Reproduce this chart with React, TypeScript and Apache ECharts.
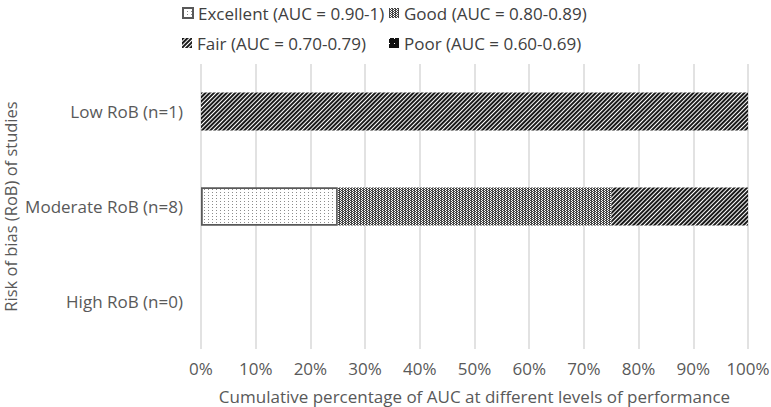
import React, { useEffect, useRef } from "react";
import * as echarts from "echarts";

const categories = ["Low RoB (n=1)", "Moderate RoB (n=8)", "High RoB (n=0)"];
const seriesNames = [
  "Excellent (AUC = 0.90-1)",
  "Good (AUC = 0.80-0.89)",
  "Fair (AUC = 0.70-0.79)",
  "Poor (AUC = 0.60-0.69)",
];
const excellent = [0, 25, 0];
const good = [0, 50, 0];
const fair = [100, 25, 0];
const poor = [0, 0, 0];
const xTicks = { min: 0, max: 100, interval: 10 };

const FONT = "'Open Sans', sans-serif";
const TEXT = "#595959";

export default function App() {
  const ref = useRef<HTMLDivElement>(null);
  useEffect(() => {
    document.body.style.margin = "0";
    if (!ref.current) return;
    const chart = echarts.init(ref.current, undefined, { renderer: "svg" });
    const decals: any[] = [
      {
        symbol: "rect",
        symbolSize: 1,
        color: "#8c8c8c",
        backgroundColor: "#ffffff",
        dashArrayX: [1, 3],
        dashArrayY: [1, 2],
        rotation: 0,
      },
      {
        symbol: "rect",
        symbolSize: 1,
        color: "#444444",
        backgroundColor: "#ffffff",
        dashArrayX: [[2, 1], [1, 1, 1, 0]],
        dashArrayY: [1, 0],
        rotation: 0,
      },
      {
        symbol: "rect",
        symbolSize: 1,
        color: "#1a1a1a",
        backgroundColor: "#ffffff",
        dashArrayX: [[1, 0]],
        dashArrayY: [1.2, 1],
        rotation: -Math.PI / 4,
      },
      {
        symbol: "rect",
        symbolSize: 1,
        color: "#ffffff",
        backgroundColor: "#111111",
        dashArrayX: [1, 4],
        dashArrayY: [1, 4],
        rotation: 0,
      },
    ];
    const values = [excellent, good, fair, poor];
    const legendPos = [
      { left: 182, top: 3 },
      { left: 389, top: 3 },
      { left: 182, top: 33 },
      { left: 389, top: 33 },
    ];
    chart.setOption({
      animation: false,
      legend: seriesNames.map((n, i) => ({
        data: [n],
        left: legendPos[i].left,
        top: legendPos[i].top,
        padding: 0,
        itemWidth: 10,
        itemHeight: 10,
        icon: "rect",
        selectedMode: false,
        textStyle: { fontFamily: FONT, fontSize: 17, color: "#404040", lineHeight: 20 },
      })),
      grid: { left: 201, right: 23, top: 64, bottom: 58, outerBoundsMode: "none", containLabel: false },
      xAxis: {
        type: "value",
        min: xTicks.min,
        max: xTicks.max,
        interval: xTicks.interval,
        axisLabel: {
          formatter: "{value}%",
          fontFamily: FONT,
          fontSize: 17,
          color: TEXT,
          margin: 11,
        },
        splitLine: { show: true, lineStyle: { color: "#d9d9d9", width: 1.5 } },
        axisLine: { show: false },
        axisTick: { show: false },
        name: "Cumulative percentage of AUC at different levels of performance",
        nameLocation: "middle",
        nameGap: 39,
        nameMoveOverlap: false,
        nameTextStyle: { fontFamily: FONT, fontSize: 17, color: TEXT },
      },
      yAxis: {
        type: "category",
        data: categories,
        inverse: true,
        axisLabel: { fontFamily: FONT, fontSize: 17, color: TEXT, margin: 18 },
        axisLine: { show: false },
        axisTick: { show: false },
        splitLine: { show: false },
        name: "Risk of bias (RoB) of studies",
        nameLocation: "middle",
        nameGap: 182,
        nameMoveOverlap: false,
        nameTextStyle: { fontFamily: FONT, fontSize: 16.5, color: TEXT },
      },
      series: seriesNames.map((n, i) => ({
        name: n,
        type: "bar",
        stack: "total",
        data: values[i].map((v) => (v === 0 ? null : v)),
        barWidth: 38,
        itemStyle: {
          color: decals[i].backgroundColor,
          decal: decals[i],
          borderColor: i === 0 ? "#595959" : undefined,
          borderWidth: i === 0 ? 1.5 : 0,
        },
        emphasis: { disabled: true },
      })),
      aria: { enabled: false, decal: { show: true } },
    });
    return () => chart.dispose();
  }, []);
  return <div ref={ref} style={{ width: 771, height: 407 }} />;
}
